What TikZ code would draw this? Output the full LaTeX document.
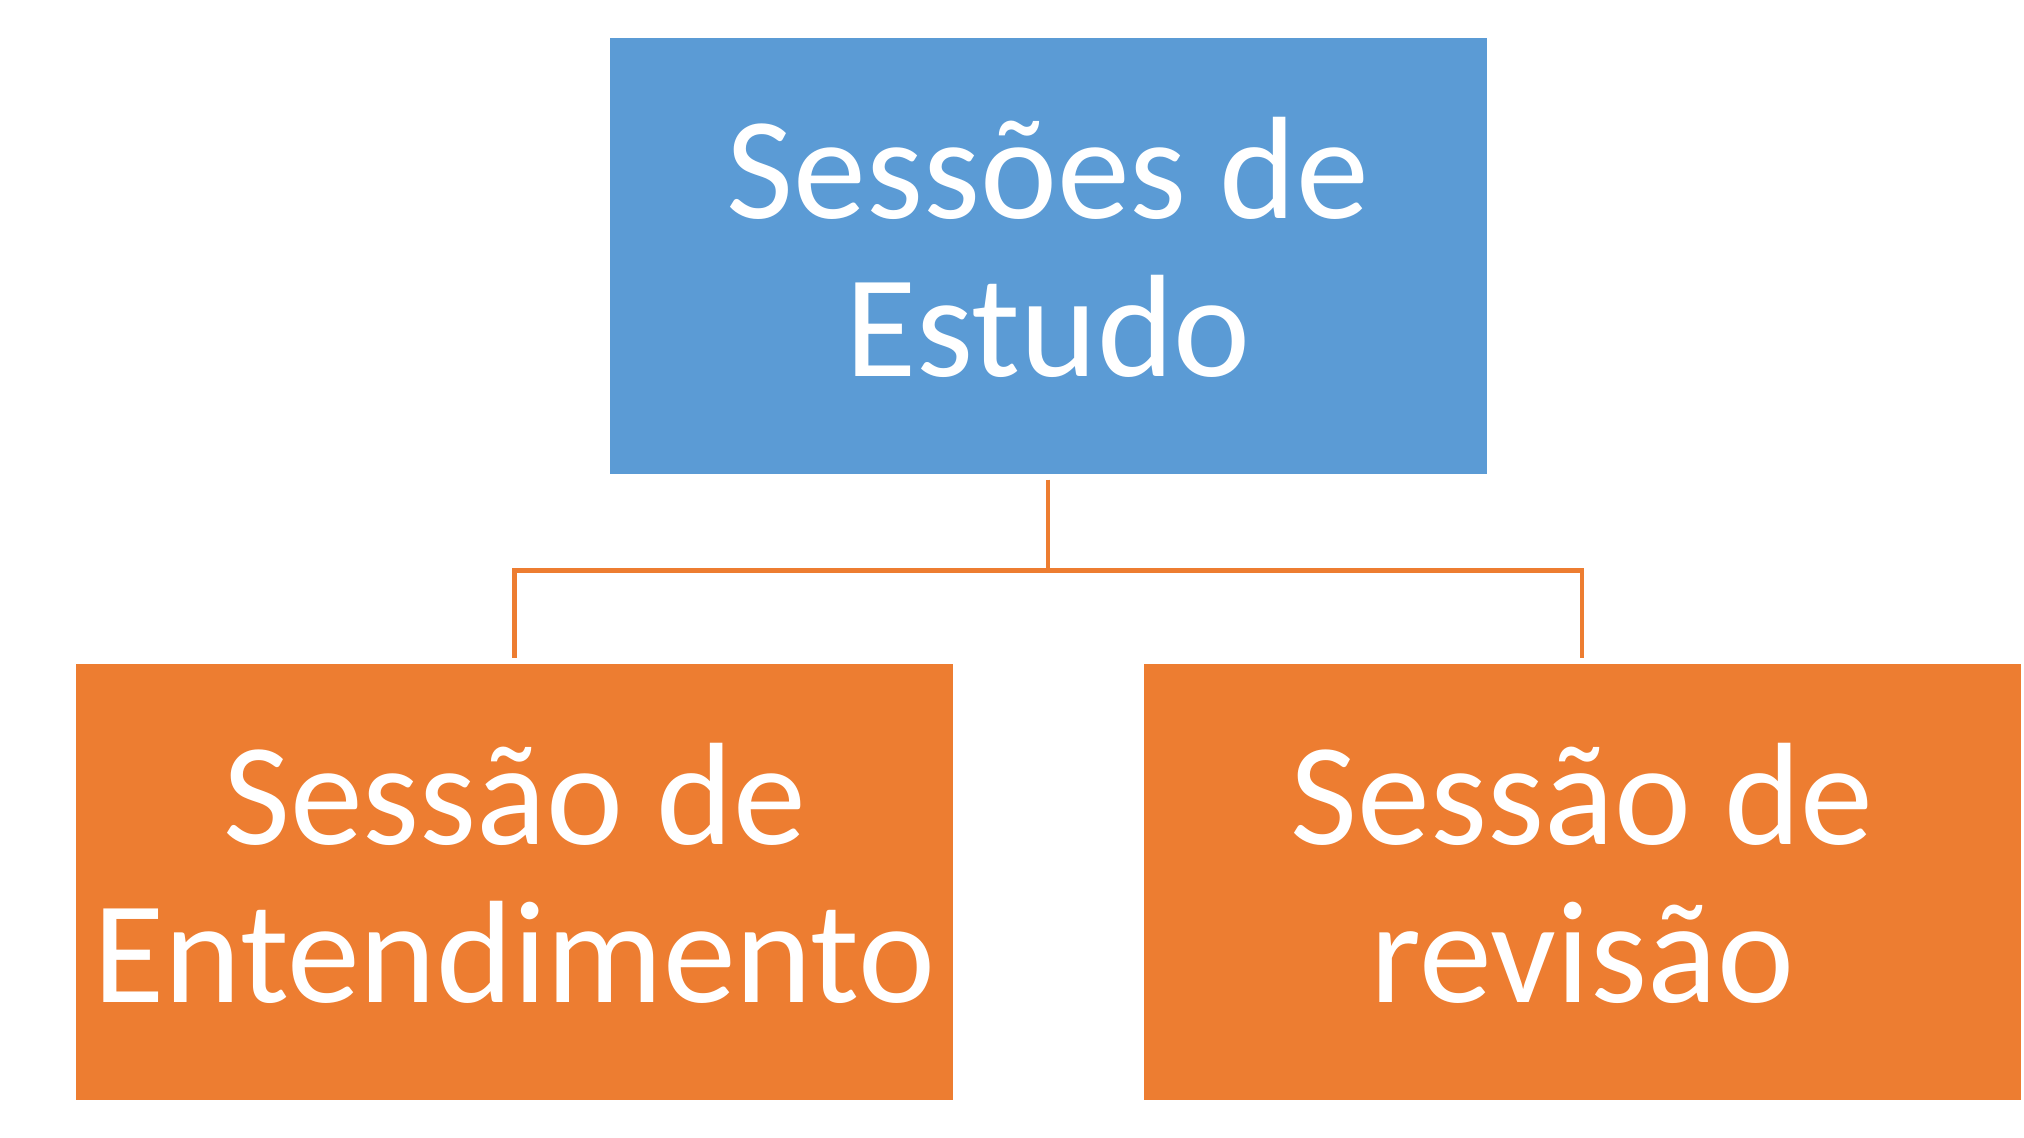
\documentclass[tikz,border=0pt]{standalone}
\usepackage{fontspec}
\setmainfont{Carlito}
\usetikzlibrary{positioning}

\definecolor{boxblue}{HTML}{5B9BD5}
\definecolor{boxorange}{HTML}{ED7D31}

\begin{document}
\begin{tikzpicture}[
  font=\fontsize{41.5}{45}\selectfont,
  unit/.style={
    align=center, text=white, inner sep=0pt, text depth=0.18cm,
    minimum width=8.77cm, minimum height=4.36cm
  },
  root/.style  ={unit, fill=boxblue},
  child/.style ={unit, fill=boxorange},
  link/.style  ={draw=boxorange, line width=1.4pt,
    shorten <=0.05cm, shorten >=0.05cm}
]
\useasboundingbox (0,0) rectangle (20.24,-11.37);

% =================== ROOT ===================
\node[root] (sessoes) at (10.48, -2.56) {Sessões de\\Estudo};

% =================== CHILDREN ===================
\node[child] (entend)  at ( 5.145, -8.82) {Sessão de\\Entendimento};
\node[child] (revisao) at (15.82,  -8.82) {Sessão de\\revisão};

% =================== CONNECTORS ===================
\coordinate (split) at ([yshift=-0.955cm]sessoes.south);
\draw[link, shorten >=0pt] (sessoes.south) -- (split);
\draw[link, shorten <=0pt] (split) -| (entend.north);
\draw[link, shorten <=0pt] (split) -| (revisao.north);

\end{tikzpicture}
\end{document}
